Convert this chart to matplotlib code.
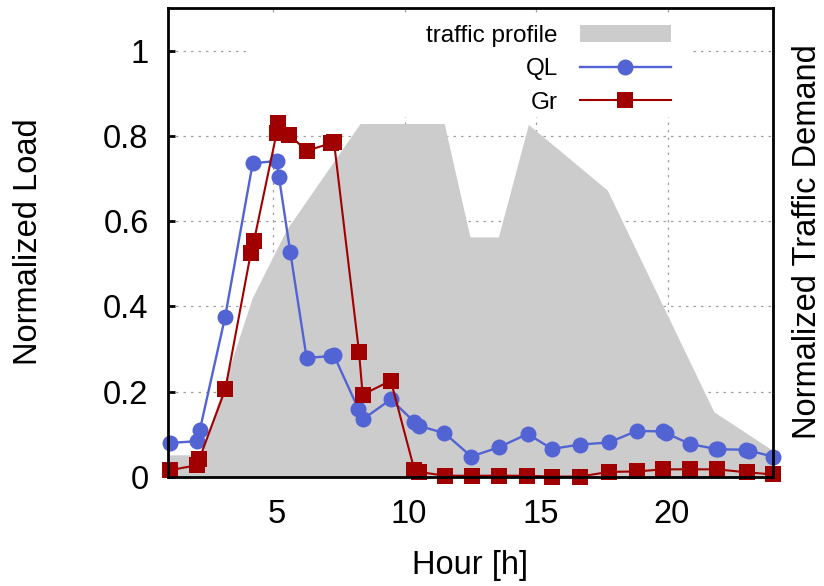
import matplotlib
matplotlib.use("Agg")
import matplotlib.pyplot as plt
from matplotlib.lines import Line2D
from matplotlib.patches import Patch, Rectangle
from matplotlib.transforms import ScaledTranslation

plt.rcParams['font.family'] = ['Liberation Sans', 'DejaVu Sans']

# Normalized traffic demand profile (background area)
traffic_hours = [1.0, 2.25, 4.2, 5.5, 8.3, 11.5, 12.48, 13.56, 14.7, 17.7, 21.75, 24.0]
traffic_demand = [0.052, 0.052, 0.42, 0.58, 0.829, 0.829, 0.563, 0.563, 0.827, 0.673, 0.153, 0.062]

# QL normalized load
ql_hours = [1.08, 2.12, 2.21, 3.17, 4.22, 5.13, 5.22, 5.65, 6.27, 7.2, 7.31, 8.24, 8.40,
            9.47, 10.37, 10.53, 11.51, 12.53, 13.59, 14.67, 15.60, 16.65, 17.76, 18.82,
            19.80, 19.93, 20.86, 21.82, 21.92, 22.97, 23.07, 24.0]
ql_load = [0.080, 0.084, 0.110, 0.375, 0.736, 0.741, 0.703, 0.527, 0.279, 0.284, 0.285,
           0.159, 0.135, 0.182, 0.129, 0.120, 0.103, 0.048, 0.070, 0.101, 0.066, 0.076,
           0.081, 0.108, 0.107, 0.103, 0.077, 0.066, 0.065, 0.064, 0.062, 0.048]

# Gr normalized load
gr_hours = [1.08, 2.12, 2.19, 3.18, 4.15, 4.27, 5.13, 5.19, 5.6, 6.27, 7.2, 7.31, 8.26,
            8.40, 9.47, 10.37, 10.54, 11.52, 12.54, 13.59, 14.64, 15.6, 16.65, 17.77,
            18.82, 19.83, 20.85, 21.86, 23.0, 24.0]
gr_load = [0.016, 0.028, 0.042, 0.206, 0.526, 0.554, 0.807, 0.830, 0.803, 0.765, 0.783,
           0.786, 0.294, 0.193, 0.226, 0.016, 0.012, 0.003, 0.003, 0.003, 0.003, 0.001,
           0.001, 0.012, 0.013, 0.018, 0.018, 0.018, 0.011, 0.006]

x_ticks = [5, 10, 15, 20]
y_ticks = [0, 0.2, 0.4, 0.6, 0.8, 1.0]
y_tick_labels = ["0", "0.2", "0.4", "0.6", "0.8", "1"]

BLUE = '#5263d4'
RED = '#a00000'
GRAY = '#cccccc'
FS = 23.5
LEG_FS = 17.5

fig = plt.figure(figsize=(8.24, 5.86), dpi=100)
W, H = 824, 586
ax = fig.add_axes([168 / W, 1 - 477 / H, 605 / W, 469 / H])
ax.set_xlim(1, 24)
ax.set_ylim(0, 1.1)
ax.set_axisbelow(True)

ax.grid(True, color='#a0a0a0', linestyle=(0, (2, 4)), linewidth=0.9)

# white box behind the key
ax.add_patch(Rectangle((0.1355, 0.768), 0.727, 0.218, transform=ax.transAxes,
                       facecolor='white', edgecolor='none', zorder=0.8))

ax.fill_between(traffic_hours, traffic_demand, 0, color=GRAY, linewidth=0, zorder=1)

ax.plot(ql_hours, ql_load, color=BLUE, linewidth=1.7, marker='o', markersize=11.5,
        markeredgewidth=0, clip_on=False, zorder=3)
ax.plot(gr_hours, gr_load, color=RED, linewidth=1.5, marker='s', markersize=12.0,
        markeredgewidth=0, clip_on=False, zorder=3)

for side in ['left', 'right', 'top', 'bottom']:
    ax.spines[side].set_linewidth(2.0)
    ax.spines[side].set_zorder(4)

ax.set_xticks(x_ticks)
ax.set_xticklabels([str(t) for t in x_ticks])
ax.set_yticks(y_ticks)
ax.set_yticklabels(y_tick_labels)
ax.tick_params(axis='x', length=0, pad=16, labelsize=FS)
ax.tick_params(axis='y', direction='in', length=5, width=2.0, pad=14, labelsize=FS)
shift = ScaledTranslation(4 / 100, 0, fig.dpi_scale_trans)
for lab in ax.get_xticklabels():
    lab.set_transform(lab.get_transform() + shift)

ax.set_xlabel('Hour [h]', fontsize=FS, labelpad=14)
fig.text(29 / W, 1 - 242 / H, 'Normalized Load', rotation=90, ha='center', va='center',
         fontsize=FS)
fig.text(808 / W, 1 - 242 / H, 'Normalized Traffic Demand', rotation=90, ha='center',
         va='center', fontsize=FS)

handles = [
    Patch(facecolor=GRAY, edgecolor='none', label='traffic profile'),
    Line2D([], [], color=BLUE, linewidth=1.7, marker='o', markersize=11.5,
           markeredgewidth=0, label='QL'),
    Line2D([], [], color=RED, linewidth=1.5, marker='s', markersize=12.0,
           markeredgewidth=0, label='Gr'),
]
leg = ax.legend(handles=handles, loc='upper right', bbox_to_anchor=(0.843, 0.980),
                markerfirst=False, frameon=False, fontsize=LEG_FS, handlelength=3.75,
                handleheight=0.75, handletextpad=0.9, labelspacing=0.45,
                borderpad=0.3, borderaxespad=0, numpoints=1)
for t in leg.get_texts():
    t.set_ha('right')
leg.set_zorder(5)

fig.savefig('out.png', dpi=100)
